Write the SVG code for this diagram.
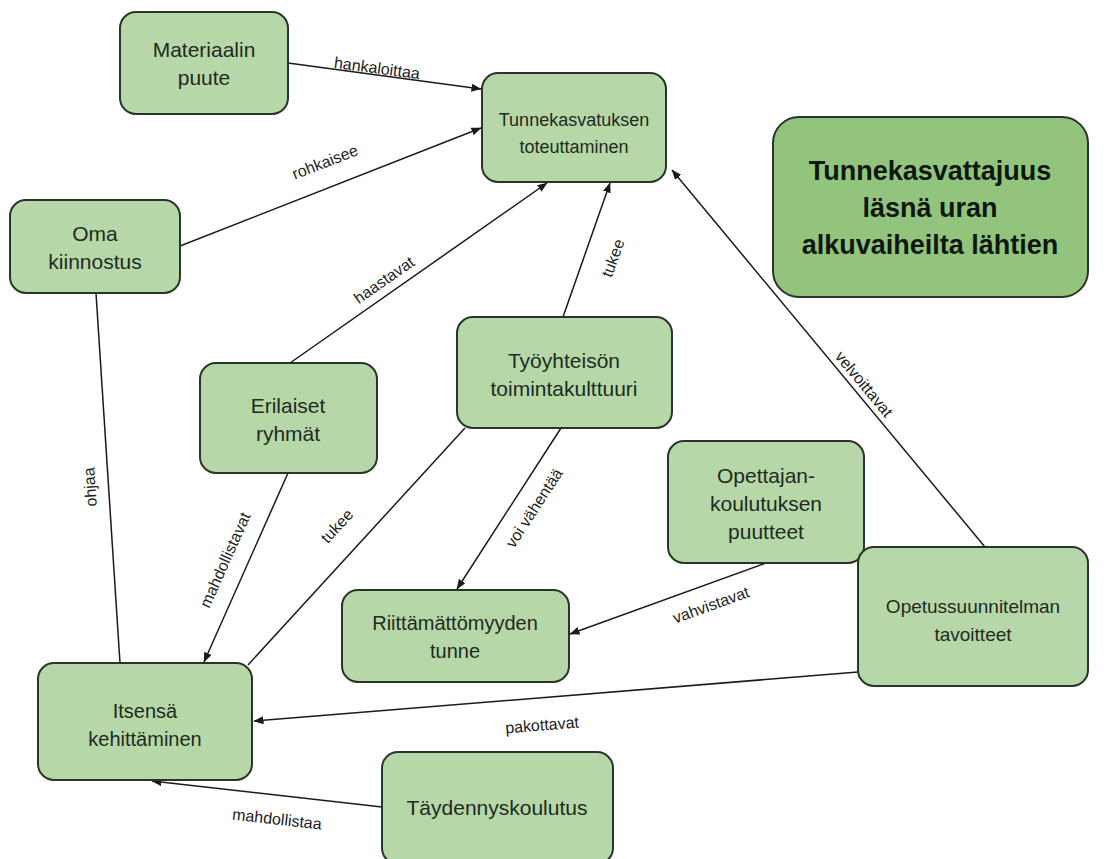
<svg xmlns="http://www.w3.org/2000/svg" width="1108" height="859" viewBox="0 0 1108 859">
<defs>
<marker id="arr" markerWidth="10" markerHeight="8" refX="9.5" refY="4" orient="auto" markerUnits="userSpaceOnUse"><path d="M0,0 L10,4 L0,8 z" fill="#1a1a1a"/></marker>
<style>
.node rect{fill:#b6d7a8;stroke:#2a342a;stroke-width:2}
#n_main rect{fill:#93c47d}
.nt{font-family:"Liberation Sans",Arial,sans-serif;font-size:21px;fill:#1e2b1e;text-anchor:middle}
.bt{font-size:27px;font-weight:bold;fill:#0d170d}
.edge{stroke:#1a1a1a;stroke-width:1.5;fill:none}
.arrow{marker-end:url(#arr)}
.lbl{font-family:"Liberation Sans",Arial,sans-serif;font-size:16px;fill:#222;text-anchor:middle;dominant-baseline:central}
</style>
</defs>
<rect width="1108" height="859" fill="#ffffff"/>
<g id="connectors">
<path class="edge arrow" d="M288,63 L481,89"/>
<text class="lbl" transform="translate(377,68) rotate(7.5)">hankaloittaa</text>
<path class="edge arrow" d="M180,246 L481,128"/>
<text class="lbl" transform="translate(325,162) rotate(-21.4)">rohkaisee</text>
<path class="edge" d="M96,293 L120,663"/>
<text class="lbl" transform="translate(90,487) rotate(-93.7)">ohjaa</text>
<path class="edge arrow" d="M290,363 L547,183"/>
<text class="lbl" transform="translate(384,280) rotate(-35)">haastavat</text>
<path class="edge arrow" d="M288,473 L204,662"/>
<text class="lbl" transform="translate(225,560) rotate(-66)">mahdollistavat</text>
<path class="edge arrow" d="M563,317 L610,183"/>
<text class="lbl" transform="translate(613,258) rotate(-70)">tukee</text>
<path class="edge" d="M465,428 L248,665"/>
<text class="lbl" transform="translate(337,526) rotate(-47.5)">tukee</text>
<path class="edge arrow" d="M561,428 L457,589"/>
<text class="lbl" transform="translate(534,508) rotate(-57)">voi vähentää</text>
<path class="edge arrow" d="M766,563 L570,634"/>
<text class="lbl" transform="translate(711,605) rotate(-20)">vahvistavat</text>
<path class="edge arrow" d="M985,547 L672,170"/>
<text class="lbl" transform="translate(864,384) rotate(50.3)">velvoittavat</text>
<path class="edge arrow" d="M858,672 L254,721"/>
<text class="lbl" transform="translate(542,725) rotate(-4.6)">pakottavat</text>
<path class="edge arrow" d="M382,807 L152,781"/>
<text class="lbl" transform="translate(277,819) rotate(6.5)">mahdollistaa</text>
</g>
<g id="n_materiaali" class="node"><rect x="120" y="12" width="168" height="102" rx="16"/><text class="nt" x="204" y="57">Materiaalin</text><text class="nt" x="204" y="85">puute</text></g>
<g id="n_tunne" class="node"><rect x="482" y="73" width="184" height="109" rx="16"/><text class="nt" style="font-size:18px" x="574" y="126">Tunnekasvatuksen</text><text class="nt" style="font-size:18px" x="574" y="153">toteuttaminen</text></g>
<g id="n_main" class="node"><rect x="773" y="117" width="315" height="180" rx="26"/><text class="nt bt" x="930" y="180">Tunnekasvattajuus</text><text class="nt bt" x="930" y="217">läsnä uran</text><text class="nt bt" x="930" y="254">alkuvaiheilta lähtien</text></g>
<g id="n_oma" class="node"><rect x="10" y="200" width="170" height="93" rx="16"/><text class="nt" x="95" y="241">Oma</text><text class="nt" x="95" y="269">kiinnostus</text></g>
<g id="n_erilaiset" class="node"><rect x="200" y="363" width="177" height="110" rx="16"/><text class="nt" x="288" y="413">Erilaiset</text><text class="nt" x="288" y="441">ryhmät</text></g>
<g id="n_tyoyhteiso" class="node"><rect x="457" y="317" width="215" height="111" rx="16"/><text class="nt" x="564" y="368">Työyhteisön</text><text class="nt" x="564" y="396">toimintakulttuuri</text></g>
<g id="n_opettajan" class="node"><rect x="668" y="441" width="196" height="122" rx="16"/><text class="nt" x="766" y="483">Opettajan-</text><text class="nt" x="766" y="511">koulutuksen</text><text class="nt" x="766" y="539">puutteet</text></g>
<g id="n_riittamattomyys" class="node"><rect x="342" y="590" width="227" height="92" rx="16"/><text class="nt" style="font-size:20px" x="455" y="630">Riittämättömyyden</text><text class="nt" style="font-size:20px" x="455" y="658">tunne</text></g>
<g id="n_ops" class="node"><rect x="858" y="547" width="230" height="139" rx="16"/><text class="nt" style="font-size:19px" x="973" y="613">Opetussuunnitelman</text><text class="nt" style="font-size:19px" x="973" y="641">tavoitteet</text></g>
<g id="n_itsensa" class="node"><rect x="38" y="663" width="214" height="117" rx="16"/><text class="nt" style="font-size:20px" x="145" y="718">Itsensä</text><text class="nt" style="font-size:20px" x="145" y="746">kehittäminen</text></g>
<g id="n_taydennys" class="node"><rect x="382" y="752" width="231" height="112" rx="16"/><text class="nt" x="497" y="815">Täydennyskoulutus</text></g>
</svg>
